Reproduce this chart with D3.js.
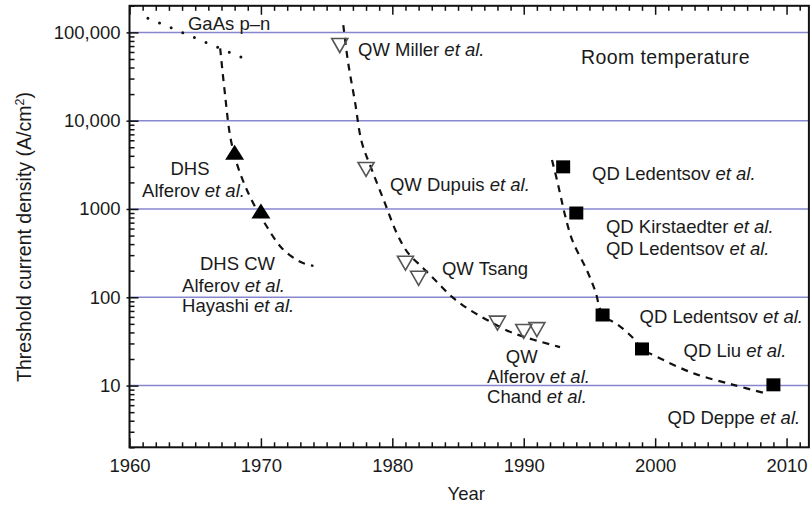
<!DOCTYPE html>
<html>
<head>
<meta charset="utf-8">
<script src="https://cdn.jsdelivr.net/npm/d3@7"></script>
<style>
  html, body { margin: 0; padding: 0; background: #fff; }
  svg { display: block; }
  text { font-family: "Liberation Sans", Arial, Helvetica, sans-serif; fill: #1a1a1a; }
</style>
</head>
<body>
<svg id="chart" width="812" height="508"></svg>
<script>
// Threshold current density of semiconductor lasers over time (room temperature)

// DHS lasers (filled up-triangles)
const dhsYears = [1968, 1970];
const dhsValues = [4400, 950];

// Quantum-well lasers (open down-triangles)
const qwYears = [1976, 1978, 1981, 1982, 1988, 1990, 1991];
const qwValues = [71000, 2800, 243, 164, 51, 41, 43];

// Quantum-dot lasers (filled squares)
const qdYears = [1993, 1994, 1996, 1999, 2009];
const qdValues = [3000, 900, 63, 26, 10.2];

// Trend guides
const gaasTrendYears = [1961.4, 1968.9];
const gaasTrendValues = [145000, 49500];

const dhsTrendYears = [1966.9, 1967.25, 1967.7, 1968.3, 1969.2, 1970.4, 1971.6, 1973.0, 1974.0];
const dhsTrendValues = [66000, 21000, 6200, 2850, 1350, 650, 360, 252, 226];

const qwTrendYears = [1976.27, 1976.63, 1977.16, 1977.67, 1978.45, 1979.43, 1980.33, 1981.19,
                      1982.33, 1983.40, 1984.54, 1985.68, 1987.21, 1989.18, 1992.76];
const qwTrendValues = [121000, 46200, 16300, 5740, 2760, 1170, 535, 318,
                       215, 149, 101, 75.6, 55.3, 39.4, 27.3];

const qdTrendYears = [1992.15, 1992.53, 1992.84, 1993.14, 1993.70, 1994.79, 1995.43, 1996.03,
                      1997.20, 1998.34, 1999.0, 2000.12, 2002.91, 2005.95, 2008.36];
const qdTrendValues = [3590, 2130, 1330, 855, 440, 204, 119, 63,
                       48.5, 34.3, 26, 21.2, 13.8, 10.2, 8.2];

// Axis ticks
const xMajorTicks = [1960, 1970, 1980, 1990, 2000, 2010];
const yMajorTicks = [10, 100, 1000, 10000, 100000];
const yTickLabels = ["10", "100", "1000", "10,000", "100,000"];

// Annotation texts, anchored in data coordinates [year, value]
const annotations = [
  { text: "GaAs p\u2013n", at: [1964.45, 106000], anchor: "start" },
  { text: "QW Miller et al.", at: [1977.39, 54100], anchor: "start" },
  { text: "Room temperature", at: [1994.36, 43800], anchor: "start", big: true },
  { text: "QW Dupuis et al.", at: [1979.82, 1600], anchor: "start" },
  { text: "QD Ledentsov et al.", at: [1995.20, 2130], anchor: "start" },
  { text: "DHS", at: [1964.60, 2430], anchor: "middle" },
  { text: "Alferov et al.", at: [1964.87, 1370], anchor: "middle" },
  { text: "DHS CW", at: [1968.22, 204], anchor: "middle" },
  { text: "Alferov et al.", at: [1964.0, 116], anchor: "start" },
  { text: "Hayashi et al.", at: [1964.0, 68.1], anchor: "start" },
  { text: "QW Tsang", at: [1983.78, 179], anchor: "start" },
  { text: "QW", at: [1989.85, 18.0], anchor: "middle" },
  { text: "Alferov et al.", at: [1987.21, 10.7], anchor: "start" },
  { text: "Chand et al.", at: [1987.21, 6.35], anchor: "start" },
  { text: "QD Kirstaedter et al.", at: [1996.26, 535], anchor: "start" },
  { text: "QD Ledentsov et al.", at: [1996.26, 301], anchor: "start" },
  { text: "QD Ledentsov et al.", at: [1998.81, 51.2], anchor: "start" },
  { text: "QD Liu et al.", at: [2002.16, 21.1], anchor: "start" },
  { text: "QD Deppe et al.", at: [2000.94, 3.67], anchor: "start" }
];

const svg = d3.select("#chart");
const FONT = 18.5;

const x = d3.scaleLinear().domain([1960, 2011.7]).range([129.5, 808.9]);
const y = d3.scaleLog().domain([2, 200000]).range([447.3, 5.8]);

const [x0, x1] = x.range();
const [yb, yt] = y.range();

// Horizontal grid at each decade
svg.append("g")
  .selectAll("line")
  .data(yMajorTicks)
  .join("line")
  .attr("x1", x0).attr("x2", x1)
  .attr("y1", d => y(d)).attr("y2", d => y(d))
  .attr("stroke", "#8787cf")
  .attr("stroke-width", 1.5);

// Axes: ticks point into the plot
const allYears = d3.range(1960, 2012);
const minorYears = allYears.filter(v => v % 10 !== 0);

function styleAxis(g) {
  g.select(".domain").remove();
  g.selectAll("line").attr("stroke", "#111").attr("stroke-width", 1.5);
  g.selectAll("text")
    .style("font-family", "\"Liberation Sans\", Arial, sans-serif")
    .style("font-size", FONT + "px")
    .attr("fill", "#1a1a1a");
}

// bottom
svg.append("g").attr("transform", `translate(0,${yb})`)
  .call(d3.axisBottom(x).tickValues(minorYears).tickSize(-5).tickFormat(""))
  .call(styleAxis);
svg.append("g").attr("transform", `translate(0,${yb})`)
  .call(d3.axisBottom(x).tickValues(xMajorTicks).tickSizeInner(-9).tickSizeOuter(0)
    .tickPadding(12).tickFormat(d3.format("d")))
  .call(styleAxis);

// top
svg.append("g").attr("transform", `translate(0,${yt})`)
  .call(d3.axisTop(x).tickValues(minorYears).tickSize(-5).tickFormat(""))
  .call(styleAxis);
svg.append("g").attr("transform", `translate(0,${yt})`)
  .call(d3.axisTop(x).tickValues(xMajorTicks).tickSize(-9).tickFormat(""))
  .call(styleAxis);

// left: log minor ticks
const yMinorTicks = [];
[1, 10, 100, 1000, 10000, 100000].forEach(dec => {
  for (let m = 2; m <= 9; m++) {
    const v = m * dec;
    if (v >= 2 && v <= 200000) yMinorTicks.push(v);
  }
});
svg.append("g").attr("transform", `translate(${x0},0)`)
  .call(d3.axisLeft(y).tickValues(yMinorTicks).tickSize(-5).tickFormat(""))
  .call(styleAxis);
svg.append("g").attr("transform", `translate(${x0},0)`)
  .call(d3.axisLeft(y).tickValues(yMajorTicks).tickSizeInner(-9).tickSizeOuter(0)
    .tickPadding(9).tickFormat((d, i) => yTickLabels[i]))
  .call(styleAxis)
  .call(g => g.selectAll(".tick line").attr("x1", -3));

// Plot frame
svg.append("rect")
  .attr("x", x0).attr("y", yt)
  .attr("width", x1 - x0).attr("height", yb - yt)
  .attr("fill", "none").attr("stroke", "#111").attr("stroke-width", 2);

// Trend lines
const line = d3.line()
  .x(d => x(d[0])).y(d => y(d[1]))
  .curve(d3.curveCatmullRom.alpha(0.5));

const zip = (a, b) => a.map((v, i) => [v, b[i]]);

svg.append("path")
  .datum(zip(gaasTrendYears, gaasTrendValues))
  .attr("d", d3.line().x(d => x(d[0])).y(d => y(d[1])))
  .attr("fill", "none").attr("stroke", "#111")
  .attr("stroke-width", 3).attr("stroke-linecap", "round")
  .attr("stroke-dasharray", "0,12.6");

[[dhsTrendYears, dhsTrendValues], [qwTrendYears, qwTrendValues], [qdTrendYears, qdTrendValues]]
  .forEach(([ys, vs]) => {
    svg.append("path")
      .datum(zip(ys, vs))
      .attr("d", line)
      .attr("fill", "none").attr("stroke", "#111")
      .attr("stroke-width", 2.2)
      .attr("stroke-dasharray", "7,6");
  });

// Marker shapes (width/height in px)
function triangleUp(w, h) {
  return { draw(ctx) { ctx.moveTo(0, -h / 2); ctx.lineTo(w / 2, h / 2); ctx.lineTo(-w / 2, h / 2); ctx.closePath(); } };
}
function triangleDown(w, h) {
  return { draw(ctx) { ctx.moveTo(-w / 2, -h / 2); ctx.lineTo(w / 2, -h / 2); ctx.lineTo(0, h / 2); ctx.closePath(); } };
}
function rectShape(w, h) {
  return { draw(ctx) { ctx.rect(-w / 2, -h / 2, w, h); } };
}

svg.append("g").selectAll("path")
  .data(zip(dhsYears, dhsValues))
  .join("path")
  .attr("transform", d => `translate(${x(d[0])},${y(d[1])})`)
  .attr("d", d3.symbol().type(triangleUp(19, 15)))
  .attr("fill", "#000");

svg.append("g").selectAll("path")
  .data(zip(qwYears, qwValues))
  .join("path")
  .attr("transform", d => `translate(${x(d[0])},${y(d[1])})`)
  .attr("d", d3.symbol().type(triangleDown(16, 14)))
  .attr("fill", "none").attr("stroke", "#555").attr("stroke-width", 1.6)
  .attr("stroke-linejoin", "miter");

svg.append("g").selectAll("path")
  .data(zip(qdYears, qdValues))
  .join("path")
  .attr("transform", d => `translate(${x(d[0])},${y(d[1])})`)
  .attr("d", d3.symbol().type(rectShape(14, 13)))
  .attr("fill", "#000");

// Annotations with italic "et al."
const ann = svg.append("g").attr("font-size", FONT);
annotations.forEach(a => {
  const t = ann.append("text")
    .attr("x", x(a.at[0])).attr("y", y(a.at[1]))
    .attr("text-anchor", a.anchor);
  if (a.big) t.attr("font-size", 19.5).attr("letter-spacing", 0.4);
  const k = a.text.indexOf("et al.");
  if (k >= 0) {
    t.append("tspan").text(a.text.slice(0, k));
    t.append("tspan").attr("font-style", "italic").text("et al.");
  } else {
    t.text(a.text);
  }
});

// Axis titles
svg.append("text")
  .attr("x", (x0 + x1) / 2 - 3).attr("y", 500)
  .attr("text-anchor", "middle")
  .attr("font-size", FONT)
  .text("Year");

const yTitle = svg.append("text")
  .attr("transform", `translate(31,237) rotate(-90)`)
  .attr("text-anchor", "middle")
  .attr("font-size", 19.5);
yTitle.append("tspan").text("Threshold current density (A/cm");
yTitle.append("tspan").attr("font-size", 12.5).attr("dy", -7).text("2");
yTitle.append("tspan").attr("dy", 7).text(")");
</script>
</body>
</html>
